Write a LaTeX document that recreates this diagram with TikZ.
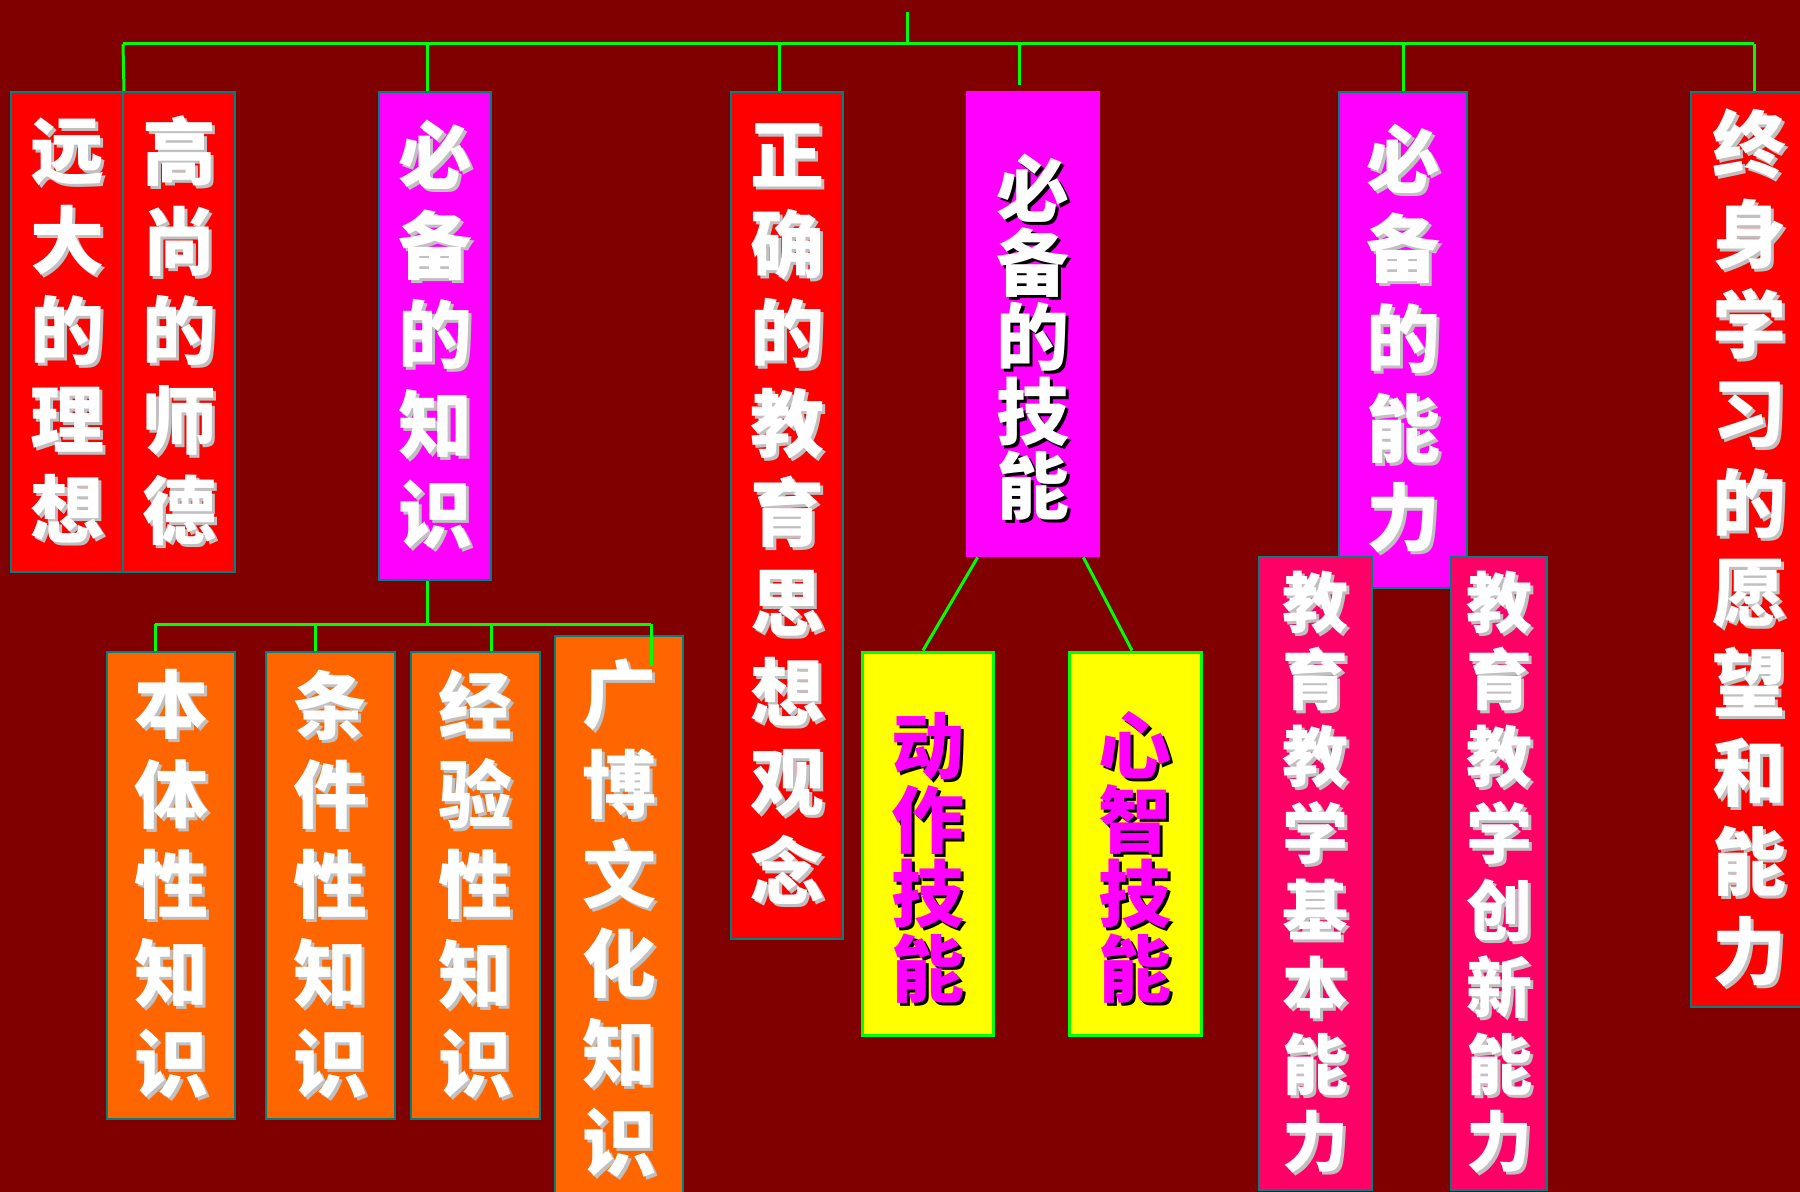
\documentclass[tikz,border=0pt]{standalone}
\usepackage{fontspec}
\usepackage{tikz}
\usetikzlibrary{positioning}
\newfontfamily\cjk{Noto Sans CJK SC}

\definecolor{bg}{HTML}{800000}
\definecolor{boxred}{HTML}{FF0000}
\definecolor{boxmag}{HTML}{FF00FF}
\definecolor{boxorange}{HTML}{FF6600}
\definecolor{boxpink}{HTML}{FF0066}
\definecolor{boxyellow}{HTML}{FFFF00}
\definecolor{linkgreen}{HTML}{00FF00}
\definecolor{edge}{HTML}{008080}
\definecolor{shade}{HTML}{C0C0C0}

% one character with its shadow
\newcommand{\shcol}{shade}
\newcommand{\shchar}[1]{\makebox[0pt][l]{\kern1.5pt\raisebox{-1.5pt}{\textcolor{\shcol}{#1}}}#1}
% characters stacked top to bottom, optional space on top
\makeatletter
\newcommand{\vtext}[2][0pt]{\vbox{\kern#1\vtext@loop#2\@nil}}
\def\vtext@loop#1{\ifx#1\@nil\else\hbox to 1.2em{\hss\shchar{#1}\hss}\expandafter\vtext@loop\fi}
\makeatother

\tikzset{
  wh/.style 2 args={minimum width=#1*0.5pt, minimum height=#2*0.5pt},
  box/.style={inner sep=0pt, text=white},
  redbox/.style={box, fill=boxred, draw=edge, line width=1pt},
  magbox/.style={box, fill=boxmag, draw=edge, line width=1pt},
  orangebox/.style={box, fill=boxorange, draw=edge, line width=1pt},
  pinkbox/.style={box, fill=boxpink, draw=edge, line width=1pt},
  skillbox/.style={box, fill=boxmag},
  yellowbox/.style={box, fill=boxyellow, draw=linkgreen, line width=1.5pt, text=boxmag},
  big/.style={font=\cjk\bfseries\fontsize{37}{44.8}\selectfont},
  small/.style={font=\cjk\bfseries\fontsize{33}{38.5}\selectfont},
  tight/.style={font=\cjk\bfseries\fontsize{36.5}{35}\selectfont\renewcommand\shcol{black}},
  link/.style={draw=linkgreen, line width=1.5pt},
}

\begin{document}
\begin{tikzpicture}[x=0.5pt, y=-0.5pt]
  \fill[bg] (0,0) rectangle (1800,1192);
  \useasboundingbox (0,0) rectangle (1800,1192);
  \clip (0,0) rectangle (1800,1192);

  % first row
  \node[redbox, big, wh={112}{480}]    (ideal)   at (67,332)     {\vtext{远大的理想}};
  \node[redbox, big, wh={112}{480}]    (ethics)  at (179,332)    {\vtext{高尚的师德}};
  \node[magbox, big, wh={112}{488}]    (knowl)   at (435,336)    {\vtext{必备的知识}};
  \node[redbox, big, wh={112}{847}]    (view)    at (787,515.5)  {\vtext{正确的教育思想观念}};
  \node[skillbox, tight, wh={134}{466}] (skill)  at (1033,324)   {\vtext[15pt]{必备的技能}};
  \node[magbox, big, wh={128}{496}]    (ability) at (1403,340)   {\vtext{必备的能力}};
  \node[redbox, big, wh={116}{915}]    (life)    at (1749,549.5) {\vtext{终身学习的愿望和能力}};

  % second row
  \node[orangebox, big, wh={128}{467}] (ontic)  at (171,885.5)   {\vtext{本体性知识}};
  \node[orangebox, big, wh={129}{467}] (cond)   at (330.5,885.5) {\vtext{条件性知识}};
  \node[orangebox, big, wh={129}{467}] (exper)  at (475.5,885.5) {\vtext{经验性知识}};
  \node[orangebox, big, wh={128}{568}] (broad)  at (619,920)     {\vtext{广博文化知识}};
  \node[yellowbox, tight, wh={131}{383}] (motor)  at (927.5,843.5) {\vtext[15.5pt]{动作技能}};
  \node[yellowbox, tight, wh={132}{383}] (mental) at (1135,843.5)  {\vtext[15.5pt]{心智技能}};
  \node[pinkbox, small, wh={113}{633}] (basic)  at (1315.5,873.5) {\vtext{教育教学基本能力}};
  \node[pinkbox, small, wh={96}{633}]  (innov)  at (1499,873.5)   {\vtext{教育教学创新能力}};

  % top bus
  \coordinate (root) at (907,12);
  \coordinate (busL) at (123,44);
  \coordinate (busR) at (1754,44);
  \coordinate (dk) at (427,44);
  \coordinate (dv) at (779,44);
  \coordinate (ds) at (1019,44);
  \coordinate (dsend) at (1019,85);
  \coordinate (da) at (1403,44);
  \draw[link] (root) -- (root |- busL);
  \draw[link] (busL) -- (busR);
  \draw[link] (busL) -- (ideal.north east);
  \draw[link] (dk) -- (dk |- knowl.north);
  \draw[link] (dv) -- (dv |- view.north);
  \draw[link] (ds) -- (dsend);
  \draw[link] (da) -- (da |- ability.north);
  \draw[link] (busR) -- (busR |- life.north);

  % knowledge bus
  \coordinate (sub) at (427,624);
  \coordinate (subL) at (155,624);
  \coordinate (subR) at (651,624);
  \coordinate (sc) at (315,624);
  \coordinate (se) at (491,624);
  \coordinate (subRend) at (651,666);
  \draw[link] (sub |- knowl.south) -- (sub);
  \draw[link] (subL) -- (subR);
  \draw[link] (subL) -- (subL |- ontic.north);
  \draw[link] (sc) -- (sc |- cond.north);
  \draw[link] (se) -- (se |- exper.north);
  \draw[link] (subR) -- (subRend);

  % skills
  \draw[link] ([xshift=6pt]skill.south west) -- ([xshift=-2.25pt]motor.north);
  \draw[link] ([xshift=-8.5pt]skill.south east) -- ([xshift=-1.5pt]mental.north);
\end{tikzpicture}
\end{document}
